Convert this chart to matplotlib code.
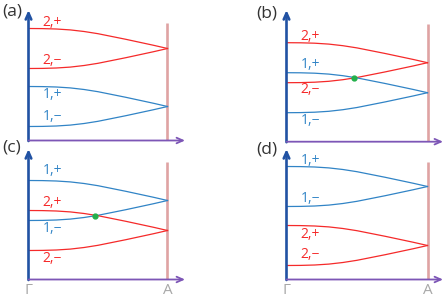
import matplotlib.pyplot as plt

# k from Gamma (0) to A (1)
k = [0.0, 0.1, 0.2, 0.3, 0.4, 0.5, 0.6, 0.7, 0.8, 0.9, 1.0]

# (a)
a_2p = [11.2, 11.19, 11.15, 11.06, 10.9, 10.68, 10.4, 10.12, 9.82, 9.52, 9.2]
a_2m = [7.2, 7.21, 7.25, 7.34, 7.5, 7.72, 8.0, 8.28, 8.58, 8.88, 9.2]
a_1p = [5.4, 5.39, 5.35, 5.26, 5.1, 4.88, 4.6, 4.32, 4.02, 3.72, 3.4]
a_1m = [1.4, 1.41, 1.45, 1.54, 1.7, 1.92, 2.2, 2.48, 2.78, 3.08, 3.4]

# (b)
b_2p = [9.9, 9.89, 9.85, 9.76, 9.6, 9.38, 9.1, 8.82, 8.52, 8.22, 7.9]
b_2m = [5.9, 5.91, 5.95, 6.04, 6.2, 6.42, 6.7, 6.98, 7.28, 7.58, 7.9]
b_1p = [6.9, 6.89, 6.85, 6.76, 6.6, 6.38, 6.1, 5.82, 5.52, 5.22, 4.9]
b_1m = [2.9, 2.91, 2.95, 3.04, 3.2, 3.42, 3.7, 3.98, 4.28, 4.58, 4.9]
b_cross = (0.48, 6.4)

# (c)
c_1p = [9.9, 9.89, 9.85, 9.76, 9.6, 9.38, 9.1, 8.82, 8.52, 8.22, 7.9]
c_1m = [5.9, 5.91, 5.95, 6.04, 6.2, 6.42, 6.7, 6.98, 7.28, 7.58, 7.9]
c_2p = [6.9, 6.89, 6.85, 6.76, 6.6, 6.38, 6.1, 5.82, 5.52, 5.22, 4.9]
c_2m = [2.9, 2.91, 2.95, 3.04, 3.2, 3.42, 3.7, 3.98, 4.28, 4.58, 4.9]
c_cross = (0.48, 6.4)

# (d)
d_1p = [11.3, 11.29, 11.25, 11.16, 11.0, 10.78, 10.5, 10.22, 9.92, 9.62, 9.3]
d_1m = [7.3, 7.31, 7.35, 7.44, 7.6, 7.82, 8.1, 8.38, 8.68, 8.98, 9.3]
d_2p = [5.4, 5.39, 5.35, 5.26, 5.1, 4.88, 4.6, 4.32, 4.02, 3.72, 3.4]
d_2m = [1.4, 1.41, 1.45, 1.54, 1.7, 1.92, 2.2, 2.48, 2.78, 3.08, 3.4]

RED = "#f52a2a"
BLUE = "#3184c6"
AXIS_Y = "#2152a3"
AXIS_X = "#7d56b6"
PINK = "#dfa3a3"
GREEN = "#22b04a"
GREY = "#a8a8a8"

plt.rcParams["font.family"] = ["Open Sans", "DejaVu Sans"]

W, H = 447, 301
fig = plt.figure(figsize=(W / 100, H / 100), dpi=100)


def panel(x0, xp, xe, yb, yt, letter, letter_xy, bands, labels, cross=None, show_k=False):
    ax = fig.add_axes([x0 / W, (H - yb) / H, (xe - x0) / W, (yb - yt) / H])
    xmax = (xe - x0) / (xp - x0)
    ymax = (yb - yt) / 10
    ax.set_xlim(0, xmax)
    ax.set_ylim(0, ymax)
    ax.axis("off")

    ax.plot([1, 1], [0, 11.8], color=PINK, lw=1.9, solid_capstyle="butt", zorder=1)
    for values, color in bands:
        ax.plot(k, values, color=color, lw=0.9, zorder=2)
    for text, x, y, color in labels:
        ax.text(x, y, text, color=color, fontsize=10, ha="center", va="center")
    if cross is not None:
        ax.plot(*cross, "o", color=GREEN, ms=3.5, zorder=3)

    ax.annotate("", xy=(0, ymax), xytext=(0, -0.05), annotation_clip=False,
                arrowprops=dict(arrowstyle="->,head_length=0.45,head_width=0.2",
                                color=AXIS_Y, lw=1.9, shrinkA=0, shrinkB=0))
    ax.annotate("", xy=(xmax, 0), xytext=(0, 0), annotation_clip=False,
                arrowprops=dict(arrowstyle="->,head_length=0.45,head_width=0.2",
                                color=AXIS_X, lw=1.3, shrinkA=0, shrinkB=0))

    if show_k:
        ax.text(0, -1.15, "Γ", color=GREY, fontsize=11, ha="center", va="center")
        ax.text(1, -1.15, "A", color=GREY, fontsize=11, ha="center", va="center")

    fig.text(letter_xy[0] / W, 1 - letter_xy[1] / H, letter, fontsize=12.5,
             ha="center", va="center", color="#333333")
    return ax


panel(28.5, 167.5, 185, 140.5, 10, "(a)", (12, 11),
      [(a_2p, RED), (a_2m, RED), (a_1p, BLUE), (a_1m, BLUE)],
      [("2,+", 0.17, 11.85, RED), ("2,−", 0.17, 8.05, RED),
       ("1,+", 0.17, 4.55, BLUE), ("1,−", 0.17, 2.35, BLUE)])

panel(286.5, 427.5, 443, 141.7, 10, "(b)", (267, 13),
      [(b_2p, RED), (b_2m, RED), (b_1p, BLUE), (b_1m, BLUE)],
      [("2,+", 0.17, 10.5, RED), ("1,+", 0.17, 7.7, BLUE),
       ("2,−", 0.17, 5.2, RED), ("1,−", 0.17, 2.1, BLUE)],
      cross=b_cross)

panel(28.5, 167.5, 185, 279.5, 149, "(c)", (12, 148),
      [(c_1p, BLUE), (c_1m, BLUE), (c_2p, RED), (c_2m, RED)],
      [("1,+", 0.17, 10.95, BLUE), ("2,+", 0.17, 7.75, RED),
       ("1,−", 0.17, 5.15, BLUE), ("2,−", 0.17, 2.15, RED)],
      cross=c_cross, show_k=True)

panel(286.5, 427.5, 443, 279.5, 149, "(d)", (267, 150),
      [(d_1p, BLUE), (d_1m, BLUE), (d_2p, RED), (d_2m, RED)],
      [("1,+", 0.17, 11.95, BLUE), ("1,−", 0.17, 8.05, BLUE),
       ("2,+", 0.17, 4.45, RED), ("2,−", 0.17, 2.45, RED)],
      show_k=True)

fig.savefig("out.png", dpi=100)
